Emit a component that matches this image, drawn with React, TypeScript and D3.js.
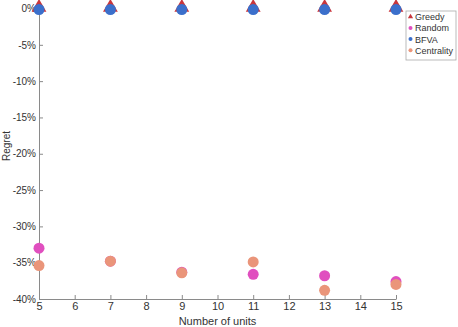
import React, { useEffect, useRef } from 'react';
import * as d3 from 'd3';

// units on the x axis
const units = [5, 7, 9, 11, 13, 15];
// regret in percent
const greedy = [0, 0, 0, 0, 0, 0];
const random = [-33.0, -34.8, -36.3, -36.6, -36.8, -37.6];
const bfva = [0, 0, 0, 0, 0, 0];
const centrality = [-35.4, -34.8, -36.4, -34.9, -38.8, -38.0];

const xTicks = [5, 6, 7, 8, 9, 10, 11, 12, 13, 14, 15];
const yTicks = [0, -5, -10, -15, -20, -25, -30, -35, -40];

const COLORS = {
  greedy: '#c8363c',
  random: '#e04fbf',
  bfva: '#3b6fcb',
  centrality: '#ea957a',
  axis: '#8a8a8a',
  text: '#333333',
};

const W = 458;
const H = 327;

export default function App() {
  const ref = useRef<SVGSVGElement>(null);

  useEffect(() => {
    const svg = d3.select(ref.current);
    svg.selectAll('*').remove();

    const x = d3.scaleLinear().domain([5, 15]).range([39, 396]);
    const y = d3.scaleLinear().domain([-40, 0]).range([299, 8.5]);
    const font = '"Liberation Sans", Arial, sans-serif';

    const g = svg.append('g');

    // x axis, ticks pointing inward
    const xAxis = g.append('g')
      .attr('transform', `translate(0,${y(-40)})`)
      .call(d3.axisBottom(x).tickValues(xTicks).tickSize(-4).tickSizeOuter(0).tickPadding(3));
    xAxis.select('.domain').attr('stroke', COLORS.axis);
    xAxis.selectAll('.tick line').attr('stroke', COLORS.axis);
    xAxis.selectAll('.tick text')
      .attr('font-family', font).attr('font-size', 11).attr('fill', COLORS.text);

    const yAxis = g.append('g')
      .attr('transform', `translate(${x(5)},0)`)
      .call(d3.axisLeft(y).tickValues(yTicks).tickSize(-4).tickSizeOuter(0).tickPadding(3)
        .tickFormat(d => `${d}%`));
    yAxis.select('.domain').attr('stroke', COLORS.axis);
    yAxis.selectAll('.tick line').attr('stroke', COLORS.axis);
    yAxis.selectAll('.tick text')
      .attr('font-family', font).attr('font-size', 10).attr('fill', COLORS.text);

    // axis titles
    g.append('text')
      .attr('x', (x(5) + x(15)) / 2).attr('y', 325)
      .attr('text-anchor', 'middle')
      .attr('font-family', font).attr('font-size', 11).attr('fill', COLORS.text)
      .text('Number of units');
    g.append('text')
      .attr('transform', `translate(10,146) rotate(-90)`)
      .attr('text-anchor', 'middle')
      .attr('font-family', font).attr('font-size', 10).attr('fill', COLORS.text)
      .text('Regret');

    const tri = d3.symbol().type(d3.symbolTriangle).size(95);

    // Greedy triangles
    g.selectAll('.greedy').data(units).enter().append('path')
      .attr('transform', (d, i) => `translate(${x(d)},${y(greedy[i]) - 1})`)
      .attr('d', tri)
      .attr('fill', COLORS.greedy);

    // Random
    g.selectAll('.random').data(units).enter().append('circle')
      .attr('cx', d => x(d)).attr('cy', (d, i) => y(random[i]))
      .attr('r', 5.5).attr('fill', COLORS.random);

    // BFVA
    g.selectAll('.bfva').data(units).enter().append('circle')
      .attr('cx', d => x(d)).attr('cy', (d, i) => y(bfva[i]) + 1)
      .attr('r', 5.5).attr('fill', COLORS.bfva);

    // Centrality
    g.selectAll('.centrality').data(units).enter().append('circle')
      .attr('cx', d => x(d)).attr('cy', (d, i) => y(centrality[i]))
      .attr('r', 5.5).attr('fill', COLORS.centrality);

    // legend
    const legend = g.append('g').attr('transform', 'translate(406,11)');
    legend.append('rect')
      .attr('width', 50).attr('height', 49)
      .attr('fill', 'white').attr('stroke', '#aaaaaa').attr('stroke-width', 0.8);
    const items = [
      { name: 'Greedy', color: COLORS.greedy, tri: true },
      { name: 'Random', color: COLORS.random, tri: false },
      { name: 'BFVA', color: COLORS.bfva, tri: false },
      { name: 'Centrality', color: COLORS.centrality, tri: false },
    ];
    items.forEach((it, i) => {
      const cy = 5.7 + i * 11.2;
      if (it.tri) {
        legend.append('path')
          .attr('transform', `translate(4.5,${cy})`)
          .attr('d', d3.symbol().type(d3.symbolTriangle).size(12))
          .attr('fill', it.color);
      } else {
        legend.append('circle').attr('cx', 4.5).attr('cy', cy).attr('r', 2).attr('fill', it.color);
      }
      legend.append('text')
        .attr('x', 9).attr('y', cy + 3.4)
        .attr('font-family', font).attr('font-size', 9).attr('fill', COLORS.text)
        .text(it.name);
    });
  }, []);

  return (
    <div style={{ position: 'absolute', left: 0, top: 0, background: 'white' }}>
      <svg ref={ref} width={W} height={H} style={{ display: 'block' }} />
    </div>
  );
}
